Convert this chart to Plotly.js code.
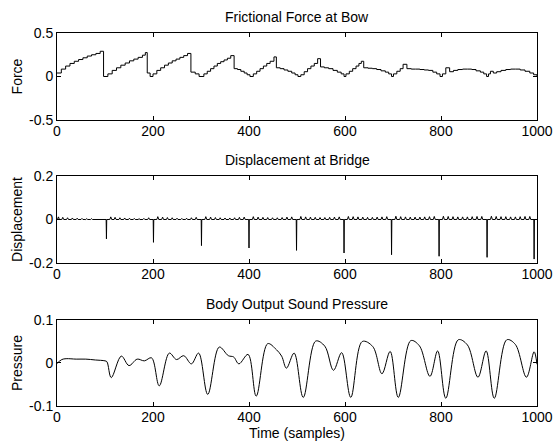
<!DOCTYPE html>
<html>
<head>
<meta charset="utf-8">
<script src="https://cdn.plot.ly/plotly-3.0.1.min.js"></script>
<style>
html,body{margin:0;padding:0;background:#fff;}
#chart{width:560px;height:442px;}
</style>
</head>
<body>
<div id="chart"></div>
<script>
// ---------- Frictional force at bow (staircase) ----------
const forceT = [0,9,18,27,36,45,54,63,72,81,90,97,
  106,115,124,133,142,151,160,169,178,184,188,194,
  200,208,216,224,232,240,248,256,264,272,279,288,296,
  306,313,320,327,334,341,348,355,362,369,376,383,390,396,
  402,409,416,423,430,437,444,452,457,465,473,481,489,496,
  502,508,515,522,529,536,543,549,557,566,575,584,592,598,
  602,609,616,623,629,634,639,648,657,666,675,684,691,697,
  701,708,715,721,729,738,747,756,765,774,783,791,798,
  803,810,818,826,835,845,855,864,873,882,889,895,
  899,903,909,916,925,935,945,955,965,975,985,993,1000];
const forceF = [0.04,0.085,0.12,0.15,0.175,0.195,0.215,0.235,0.25,0.265,0.29,0.0,
  0.03,0.07,0.10,0.13,0.155,0.18,0.20,0.22,0.245,0.275,0.04,0.0,
  0.03,0.07,0.10,0.13,0.155,0.18,0.20,0.22,0.24,0.265,0.05,0.03,0.0,
  0.03,0.06,0.09,0.12,0.15,0.17,0.19,0.21,0.24,0.09,0.08,0.06,0.04,0.02,
  0.0,0.03,0.06,0.09,0.12,0.15,0.175,0.225,0.10,0.09,0.075,0.06,0.04,0.02,
  0.0,0.02,0.055,0.09,0.12,0.15,0.205,0.11,0.10,0.09,0.07,0.05,0.03,0.0,
  0.03,0.06,0.09,0.12,0.15,0.175,0.10,0.095,0.09,0.08,0.065,0.05,0.03,0.0,
  0.03,0.06,0.09,0.14,0.09,0.085,0.085,0.08,0.075,0.07,0.05,0.03,0.0,
  0.03,0.10,0.055,0.07,0.08,0.085,0.085,0.08,0.065,0.05,0.03,0.0,
  0.03,0.06,0.04,0.055,0.07,0.08,0.085,0.085,0.075,0.06,0.04,0.02,0.0];

// ---------- Displacement at bridge ----------
const spikeT = [103,201,301,400,499,598,697,796,896,994];
const spikeD = [-0.089,-0.105,-0.12,-0.131,-0.142,-0.154,-0.162,-0.169,-0.174,-0.182];
const rippleT = [3,12,22,32,42,52,62,72,82,92,
  112,121,131,141,151,161,171,181,191,
  210,220,230,240,250,260,270,280,290,
  310,320,330,340,350,360,370,380,390,
  409,419,429,439,449,459,469,479,489,
  508,518,528,538,548,558,568,578,588,
  607,617,627,637,647,657,667,677,687,
  706,716,726,736,746,756,766,776,786,
  805,815,825,835,845,855,865,875,885,
  905,915,925,935,945,955,965,975,985];
const rippleH = [0.012,0.010,0.008,0.007,0.006,0.005,0.004,0.004,0.003,0.003,
  0.012,0.010,0.008,0.007,0.006,0.005,0.004,0.005,0.008,
  0.013,0.011,0.009,0.008,0.006,0.005,0.006,0.008,0.010,
  0.013,0.011,0.009,0.008,0.007,0.007,0.008,0.010,0.011,
  0.013,0.011,0.010,0.009,0.008,0.008,0.009,0.011,0.012,
  0.014,0.012,0.011,0.010,0.009,0.009,0.010,0.011,0.012,
  0.014,0.013,0.012,0.011,0.010,0.010,0.011,0.012,0.013,
  0.015,0.013,0.012,0.011,0.011,0.011,0.012,0.013,0.014,
  0.015,0.014,0.013,0.012,0.012,0.012,0.013,0.014,0.014,
  0.015,0.014,0.013,0.013,0.012,0.012,0.013,0.014,0.014];

// ---------- Body output sound pressure ----------
const pressT = [0,10,19,40,60,80,100,104,113,134,150,167,182,197,213,234,249,264,280,295,
  314,338,357,368,379,398,415,439,457,468,478,494,513,539,558,576,593,612,636,658,
  677,694,711,737,755,777,793,810,836,855,877,894,911,937,955,978,994,1000];
const pressP = [-0.001,0.008,0.010,0.009,0.009,0.007,0.005,0.003,-0.034,0.016,-0.006,0.009,0.005,0.012,-0.053,0.023,0.008,0.017,-0.002,0.023,
  -0.073,0.037,0.017,0.014,-0.002,0.020,-0.077,0.045,0.031,0.016,-0.012,0.023,-0.080,0.051,0.039,-0.017,0.024,-0.080,0.050,0.038,
  -0.025,0.027,-0.080,0.052,0.040,-0.031,0.028,-0.082,0.054,0.042,-0.033,0.028,-0.082,0.054,0.043,-0.033,0.026,-0.003];

const xTicks = [0,200,400,600,800,1000];
const titles = ['Frictional Force at Bow','Displacement at Bridge','Body Output Sound Pressure'];
const yLabels = ['Force','Displacement','Pressure'];

// build displacement polyline from ripple bumps and spikes
const ev = [];
for (let i = 0; i < rippleT.length; i++) {
  ev.push([rippleT[i]-2, 0], [rippleT[i], rippleH[i]], [rippleT[i]+2, 0]);
}
for (let i = 0; i < spikeT.length; i++) {
  ev.push([spikeT[i]-0.6, 0], [spikeT[i], spikeD[i]], [spikeT[i]+0.6, 0]);
}
ev.push([0,0],[1000,0]);
ev.sort((a,b)=>a[0]-b[0]);
const dispT = ev.map(e=>e[0]);
const dispY = ev.map(e=>e[1]);

const font = {family:'"Liberation Sans", Arial, Helvetica, sans-serif', size:14, color:'#000'};
const lineStyle = {color:'#000', width:1};

const traces = [
  {x:forceT, y:forceF, type:'scatter', mode:'lines', line:Object.assign({shape:'hv'}, lineStyle), xaxis:'x', yaxis:'y'},
  {x:dispT, y:dispY, type:'scatter', mode:'lines', line:lineStyle, xaxis:'x2', yaxis:'y2'},
  {x:pressT, y:pressP, type:'scatter', mode:'lines', line:{color:'#000', width:1, shape:'spline', smoothing:1}, xaxis:'x3', yaxis:'y3'}
];

function xa(anchor){
  return {anchor:anchor, domain:[0,1], range:[0,1000], tickvals:xTicks, ticktext:xTicks.map(String),
    ticks:'inside', ticklen:4, tickcolor:'#000', showline:true, linecolor:'#000', linewidth:1, mirror:'ticks',
    showgrid:false, zeroline:false, tickfont:font, ticklabelstandoff:-2};
}
function ya(anchor, dom, rng, tv, title){
  return {anchor:anchor, domain:dom, range:rng, tickvals:tv, ticktext:tv.map(v=>String(v)),
    ticks:'inside', ticklen:4, tickcolor:'#000', showline:true, linecolor:'#000', linewidth:1, mirror:'ticks',
    showgrid:false, zeroline:false, tickfont:font, title:{text:title, font:font, standoff:3}};
}

const doms = [[0.7668,1],[0.3834,0.6166],[0,0.2306]];
const layout = {
  width:560, height:442,
  margin:{l:57, r:23, t:33, b:36},
  paper_bgcolor:'#fff', plot_bgcolor:'#fff',
  showlegend:false,
  font:font,
  xaxis:xa('y'),
  xaxis2:xa('y2'),
  xaxis3:Object.assign(xa('y3'), {title:{text:'Time (samples)', font:font, standoff:4}}),
  yaxis:ya('x', doms[0], [-0.5,0.5], [-0.5,0,0.5], yLabels[0]),
  yaxis2:ya('x2', doms[1], [-0.2,0.2], [-0.2,0,0.2], yLabels[1]),
  yaxis3:ya('x3', doms[2], [-0.1,0.1], [-0.1,0,0.1], yLabels[2]),
  annotations: titles.map((t,i)=>({text:t, xref:'paper', yref:'paper', x:0.5, y:doms[i][1],
    xanchor:'center', yanchor:'bottom', yshift:6, showarrow:false, font:font}))
};

Plotly.newPlot('chart', traces, layout, {staticPlot:true, displayModeBar:false});
</script>
</body>
</html>
